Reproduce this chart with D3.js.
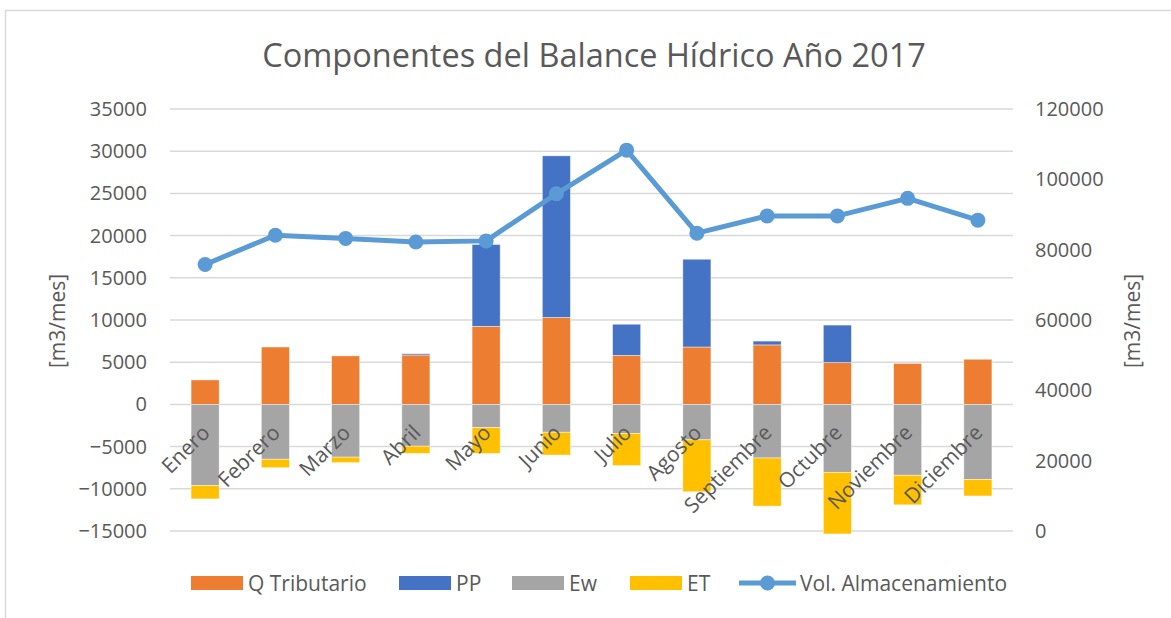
<!DOCTYPE html>
<html>
<head>
<meta charset="utf-8">
<script src="https://cdn.jsdelivr.net/npm/d3@7"></script>
<style>
  html, body { margin: 0; padding: 0; background: #fff; }
  svg { display: block; }
  text { font-family: "Open Sans", "Noto Sans", sans-serif; fill: #595959; }
</style>
</head>
<body>
<svg id="chart" width="1171" height="618"></svg>
<script>
// Monthly water-balance components, 2017
const months = ["Enero", "Febrero", "Marzo", "Abril", "Mayo", "Junio",
                "Julio", "Agosto", "Septiembre", "Octubre", "Noviembre", "Diciembre"];
const qTributario = [2900, 6800, 5750, 5850, 9250, 10300, 5800, 6800, 7050, 4950, 4850, 5350];
const pp          = [0, 0, 0, 150, 9700, 19150, 3700, 10400, 450, 4450, 0, 0];
const ew          = [-9600, -6500, -6250, -4950, -2750, -3300, -3450, -4200, -6350, -8050, -8400, -8900];
const et          = [-1600, -1000, -650, -850, -3050, -2700, -3800, -6150, -5700, -7300, -3500, -1950];
const volAlmacenamiento = [75800, 84100, 83200, 82200, 82500, 95900, 108300, 84700, 89600, 89600, 94600, 88400];

const leftTicks  = [-15000, -10000, -5000, 0, 5000, 10000, 15000, 20000, 25000, 30000, 35000];
const rightTicks = [0, 20000, 40000, 60000, 80000, 100000, 120000];

const seriesNames  = ["Q Tributario", "PP", "Ew", "ET", "Vol. Almacenamiento"];
const seriesColors = ["#ED7D31", "#4472C4", "#A5A5A5", "#FFC000", "#5B9BD5"];

const svg = d3.select("#chart");

// chart frame
svg.append("rect")
  .attr("x", 5.5).attr("y", 10.5)
  .attr("width", 1200).attr("height", 700)
  .attr("fill", "none").attr("stroke", "#d9d9d9").attr("stroke-width", 1.5);

const plot = { left: 170, right: 1013, top: 109, bottom: 531 };

const x = d3.scaleBand()
  .domain(months)
  .range([plot.left, plot.right])
  .paddingInner(0.6)
  .paddingOuter(0.3);

const y = d3.scaleLinear().domain([-15000, 35000]).range([plot.bottom, plot.top]);
const y2 = d3.scaleLinear().domain([0, 120000]).range([plot.bottom, plot.top]);

// gridlines
svg.append("g").selectAll("line")
  .data(leftTicks)
  .join("line")
  .attr("x1", plot.left).attr("x2", plot.right)
  .attr("y1", d => y(d)).attr("y2", d => y(d))
  .attr("stroke", "#d9d9d9").attr("stroke-width", 1.5);

// left axis
const leftAxis = svg.append("g")
  .attr("transform", `translate(${plot.left - 23},0)`)
  .call(d3.axisLeft(y).tickValues(leftTicks).tickSize(0).tickPadding(0).tickFormat(d3.format("d")));
leftAxis.select(".domain").remove();
leftAxis.selectAll("text")
  .attr("font-size", 20).attr("fill", "#595959")
  .style("font-family", "'Open Sans', sans-serif");

// right axis
const rightAxis = svg.append("g")
  .attr("transform", `translate(${plot.right + 22},0)`)
  .call(d3.axisRight(y2).tickValues(rightTicks).tickSize(0).tickPadding(0).tickFormat(d3.format("d")));
rightAxis.select(".domain").remove();
rightAxis.selectAll("text")
  .attr("font-size", 20).attr("fill", "#595959")
  .style("font-family", "'Open Sans', sans-serif");

// stacked bars: positive components upward, negative downward
const rows = months.map((m, i) => ({
  month: m,
  parts: [
    { key: 0, y0: 0, y1: qTributario[i] },
    { key: 1, y0: qTributario[i], y1: qTributario[i] + pp[i] },
    { key: 2, y0: 0, y1: ew[i] },
    { key: 3, y0: ew[i], y1: ew[i] + et[i] }
  ]
}));

const barG = svg.append("g");
rows.forEach(r => {
  barG.selectAll(null)
    .data(r.parts.filter(p => p.y1 !== p.y0))
    .join("rect")
    .attr("x", x(r.month))
    .attr("width", x.bandwidth())
    .attr("y", p => y(Math.max(p.y0, p.y1)))
    .attr("height", p => Math.abs(y(p.y0) - y(p.y1)))
    .attr("fill", p => seriesColors[p.key])
    .attr("stroke", "#fff")
    .attr("stroke-opacity", 0.6)
    .attr("stroke-width", 0.75);
});

// category labels, rotated
svg.append("g").selectAll("text")
  .data(months)
  .join("text")
  .attr("transform", d => `translate(${x(d) + x.bandwidth() / 2 + 6},434) rotate(-45)`)
  .attr("text-anchor", "end")
  .attr("font-size", 21)
  .text(d => d);

// storage volume line on the secondary axis
const cx = d => x(d) + x.bandwidth() / 2;
const linePts = months.map((m, i) => [cx(m), y2(volAlmacenamiento[i])]);
svg.append("path")
  .attr("d", d3.line()(linePts))
  .attr("fill", "none")
  .attr("stroke", seriesColors[4])
  .attr("stroke-width", 5)
  .attr("stroke-linejoin", "round");
svg.append("g").selectAll("circle")
  .data(linePts)
  .join("circle")
  .attr("cx", d => d[0]).attr("cy", d => d[1])
  .attr("r", 7.5)
  .attr("fill", seriesColors[4]);

// axis titles
svg.append("text")
  .attr("transform", "translate(65,321) rotate(-90)")
  .attr("text-anchor", "middle")
  .attr("font-size", 21)
  .text("[m3/mes]");
svg.append("text")
  .attr("transform", "translate(1140,321) rotate(-90)")
  .attr("text-anchor", "middle")
  .attr("font-size", 21)
  .text("[m3/mes]");

// title
svg.append("text")
  .attr("x", 594).attr("y", 67)
  .attr("text-anchor", "middle")
  .attr("font-size", 32.5)
  .text("Componentes del Balance Hídrico Año 2017");

// legend
const legendX = [191, 399, 512, 630, 739];
const legend = svg.append("g");
seriesNames.forEach((name, i) => {
  const g = legend.append("g").attr("transform", `translate(${legendX[i]},583)`);
  if (i < 4) {
    g.append("rect").attr("x", 0).attr("y", -7).attr("width", 52).attr("height", 14)
      .attr("fill", seriesColors[i]);
    g.append("text").attr("x", 57).attr("y", 7.5).attr("font-size", 21).text(name);
  } else {
    g.append("line").attr("x1", 0).attr("x2", 57).attr("y1", 0).attr("y2", 0)
      .attr("stroke", seriesColors[i]).attr("stroke-width", 5);
    g.append("circle").attr("cx", 28.5).attr("cy", 0).attr("r", 7.5).attr("fill", seriesColors[i]);
    g.append("text").attr("x", 61).attr("y", 7.5).attr("font-size", 21).text(name);
  }
});
</script>
</body>
</html>
